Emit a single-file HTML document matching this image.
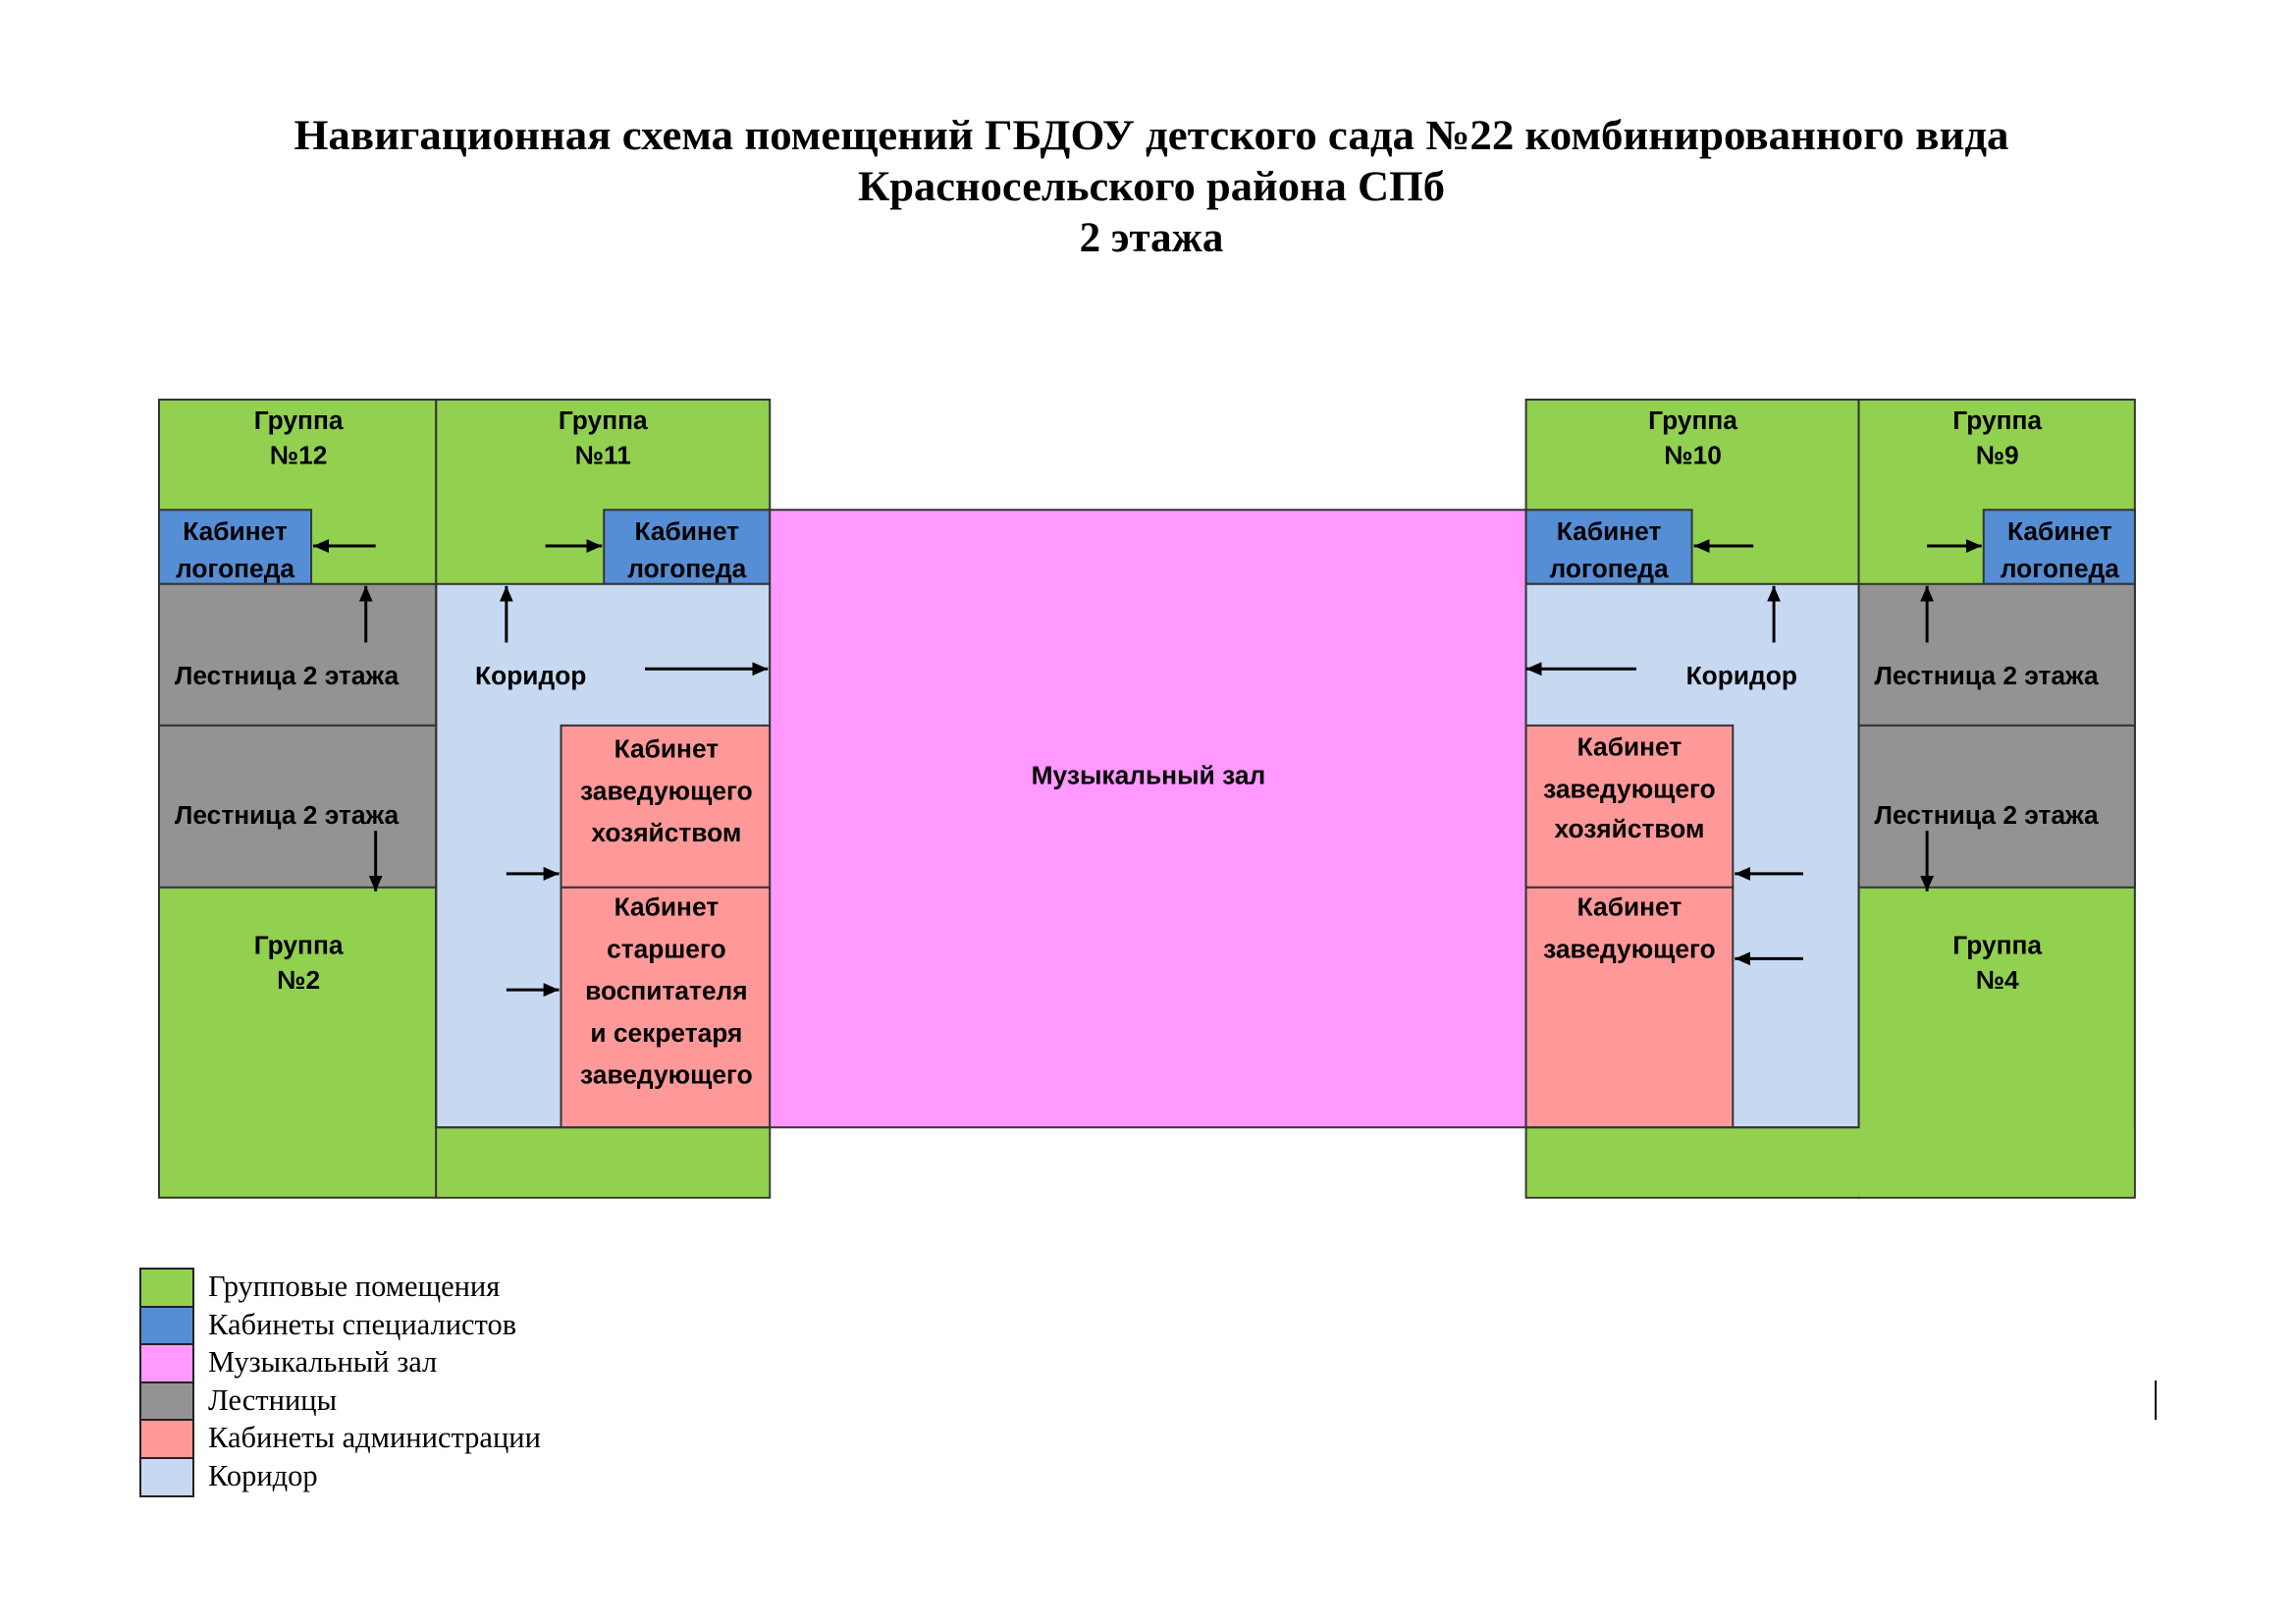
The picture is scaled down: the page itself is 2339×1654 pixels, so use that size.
<!DOCTYPE html>
<html><head><meta charset="utf-8"><style>
html,body{margin:0;padding:0;background:#fff}
svg{display:block}
.t{font-family:"Liberation Serif",serif;font-weight:bold;font-size:43px;text-anchor:middle}
.l{font-family:"Liberation Sans",sans-serif;font-weight:bold;font-size:26.5px;fill:#000}
.c{text-anchor:middle}
.lg{font-family:"Liberation Serif",serif;font-size:30.5px}
</style></head><body>
<svg width="2339" height="1654" viewBox="0 0 2339 1654" xmlns="http://www.w3.org/2000/svg">
<defs>
<marker id="b" markerWidth="16" markerHeight="14" refX="16" refY="7" orient="auto" markerUnits="userSpaceOnUse"><path d="M0,0 L16,7 L0,14 z" fill="#000"/></marker></defs>
<text class="t" x="1173" y="152" textLength="1747" lengthAdjust="spacingAndGlyphs">Навигационная схема помещений ГБДОУ детского сада №22 комбинированного вида</text>
<text class="t" x="1173" y="204" textLength="598" lengthAdjust="spacingAndGlyphs">Красносельского района СПб</text>
<text class="t" x="1173" y="256">2 этажа</text>
<g transform="translate(162,407) scale(0.994,0.9936) translate(-162,-407)">
<g stroke="#333" stroke-width="2">
<rect x="162" y="407" width="284" height="818" fill="#92d050"/>
<rect x="446" y="407" width="342" height="818" fill="#92d050"/>
<rect x="162" y="520" width="156" height="76" fill="#558ed5"/>
<rect x="618" y="520" width="170" height="76" fill="#558ed5"/>
<rect x="162" y="596" width="284" height="145" fill="#939393"/>
<rect x="162" y="741" width="284" height="166" fill="#939393"/>
<rect x="446" y="596" width="342" height="557" fill="#c6d9f1"/>
<rect x="574" y="741" width="214" height="166" fill="#ff9999"/>
<rect x="574" y="907" width="214" height="246" fill="#ff9999"/>
<rect x="788" y="520" width="775" height="633" fill="#ff99ff"/>
<rect x="1563" y="407" width="341" height="818" fill="#92d050"/>
<rect x="1904" y="407" width="283" height="818" fill="#92d050"/>
<rect x="1563" y="520" width="170" height="76" fill="#558ed5"/>
<rect x="2032" y="520" width="155" height="76" fill="#558ed5"/>
<rect x="1563" y="596" width="341" height="557" fill="#c6d9f1"/>
<rect x="1904" y="596" width="283" height="145" fill="#939393"/>
<rect x="1904" y="741" width="283" height="166" fill="#939393"/>
<rect x="1563" y="741" width="212" height="166" fill="#ff9999"/>
<rect x="1563" y="907" width="212" height="246" fill="#ff9999"/>
</g>
<rect x="447" y="1154" width="340" height="70" fill="#92d050"/>
<rect x="1564" y="1154" width="622" height="70" fill="#92d050"/>
<g stroke="#333" stroke-width="2">
<line x1="446" y1="596" x2="446" y2="1153"/>
<line x1="1904" y1="596" x2="1904" y2="1153"/>
<line x1="446" y1="1153" x2="788" y2="1153"/>
<line x1="1563" y1="1153" x2="1904" y2="1153"/>
</g>
<g stroke="#000" stroke-width="3" marker-end="url(#b)">
<line x1="384" y1="557" x2="320" y2="557"/>
<line x1="374" y1="656" x2="374" y2="598"/>
<line x1="558" y1="557" x2="616" y2="557"/>
<line x1="518" y1="656" x2="518" y2="598"/>
<line x1="660" y1="683" x2="786" y2="683"/>
<line x1="384" y1="849" x2="384" y2="911"/>
<line x1="518" y1="893" x2="572" y2="893"/>
<line x1="518" y1="1012" x2="572" y2="1012"/>
<line x1="1796" y1="557" x2="1735" y2="557"/>
<line x1="1817" y1="656" x2="1817" y2="598"/>
<line x1="1676" y1="683" x2="1563" y2="683"/>
<line x1="1974" y1="557" x2="2030" y2="557"/>
<line x1="1974" y1="656" x2="1974" y2="598"/>
<line x1="1974" y1="849" x2="1974" y2="911"/>
<line x1="1847" y1="893" x2="1777" y2="893"/>
<line x1="1847" y1="980" x2="1777" y2="980"/>
</g>
<g class="l">
<text class="c" x="305" y="437">Группа</text><text class="c" x="305" y="473">№12</text>
<text class="c" x="617" y="437">Группа</text><text class="c" x="617" y="473">№11</text>
<text class="c" x="1734" y="437">Группа</text><text class="c" x="1734" y="473">№10</text>
<text class="c" x="2046" y="437">Группа</text><text class="c" x="2046" y="473">№9</text>
<text class="c" x="305" y="975">Группа</text><text class="c" x="305" y="1011">№2</text>
<text class="c" x="2046" y="975">Группа</text><text class="c" x="2046" y="1011">№4</text>
<text class="c" x="240" y="551">Кабинет</text><text class="c" x="240" y="589">логопеда</text>
<text class="c" x="703" y="551">Кабинет</text><text class="c" x="703" y="589">логопеда</text>
<text class="c" x="1648" y="551">Кабинет</text><text class="c" x="1648" y="589">логопеда</text>
<text class="c" x="2110" y="551">Кабинет</text><text class="c" x="2110" y="589">логопеда</text>
<text x="178" y="699">Лестница 2 этажа</text>
<text x="178" y="842">Лестница 2 этажа</text>
<text x="1920" y="699">Лестница 2 этажа</text>
<text x="1920" y="842">Лестница 2 этажа</text>
<text class="c" x="543" y="699">Коридор</text>
<text class="c" x="1784" y="699">Коридор</text>
<text class="c" x="1176" y="801">Музыкальный зал</text>
<text class="c" x="682" y="774">Кабинет</text><text class="c" x="682" y="817">заведующего</text><text class="c" x="682" y="860">хозяйством</text>
<text class="c" x="682" y="936">Кабинет</text><text class="c" x="682" y="979">старшего</text><text class="c" x="682" y="1022">воспитателя</text><text class="c" x="682" y="1065">и секретаря</text><text class="c" x="682" y="1108">заведующего</text>
<text class="c" x="1669" y="772">Кабинет</text><text class="c" x="1669" y="815">заведующего</text><text class="c" x="1669" y="856">хозяйством</text>
<text class="c" x="1669" y="936">Кабинет</text><text class="c" x="1669" y="979">заведующего</text>
</g>
</g>
<g stroke="#222" stroke-width="2">
<rect x="143" y="1292" width="54" height="39" fill="#92d050"/>
<rect x="143" y="1331" width="54" height="38" fill="#558ed5"/>
<rect x="143" y="1369" width="54" height="39" fill="#ff99ff"/>
<rect x="143" y="1408" width="54" height="38" fill="#939393"/>
<rect x="143" y="1446" width="54" height="39" fill="#ff9999"/>
<rect x="143" y="1485" width="54" height="39" fill="#c6d9f1"/>
</g>
<g class="lg">
<text x="212" y="1320">Групповые помещения</text>
<text x="212" y="1359">Кабинеты специалистов</text>
<text x="212" y="1397">Музыкальный зал</text>
<text x="212" y="1436">Лестницы</text>
<text x="212" y="1474">Кабинеты администрации</text>
<text x="212" y="1513">Коридор</text>
</g>
<line x1="2196" y1="1406" x2="2196" y2="1446" stroke="#000" stroke-width="2"/>
</svg>
</body></html>
